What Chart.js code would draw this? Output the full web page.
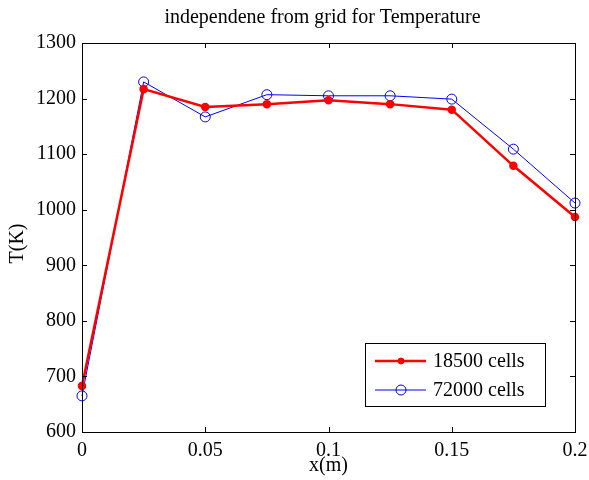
<!DOCTYPE html>
<html>
<head>
<meta charset="utf-8">
<script src="https://cdn.jsdelivr.net/npm/chart.js@4.4.1/dist/chart.umd.min.js"></script>
<style>
  html, body { margin: 0; padding: 0; background: #fff; }
  #wrap { width: 589px; height: 480px; }
</style>
</head>
<body>
<div id="wrap"><canvas id="tempChart" width="589" height="480"></canvas></div>
<script>
// grid independence data, temperature along x
const xPositions = [0, 0.025, 0.05, 0.075, 0.1, 0.125, 0.15, 0.175, 0.2];
const coarseTemps = [683, 1217, 1185, 1190, 1197, 1190, 1180, 1079, 987];
const fineTemps = [665, 1230, 1167, 1207, 1205, 1205, 1199, 1109, 1012];
const xTicks = [0, 0.05, 0.1, 0.15, 0.2];
const yTicks = [600, 700, 800, 900, 1000, 1100, 1200, 1300];
const chartTitle = 'independene from grid for Temperature';
const yLabel = 'T(K)';

const serif = "'Liberation Serif', 'Times New Roman', serif";
const fontSize = 20;

function toPoints(ys) {
    return xPositions.map((x, i) => ({ x: x, y: ys[i] }));
}

// box around the axes with inward ticks on all four sides, plus title and y label
const axesBox = {
    id: 'axesBox',
    afterDraw(chart) {
        const { ctx, chartArea: a, scales } = chart;
        const len = 5;
        ctx.save();
        ctx.strokeStyle = '#000';
        ctx.lineWidth = 1;
        ctx.strokeRect(a.left + 0.5, a.top + 0.5, a.right - a.left, a.bottom - a.top);
        ctx.beginPath();
        xTicks.forEach(v => {
            const px = Math.round(scales.x.getPixelForValue(v)) + 0.5;
            ctx.moveTo(px, a.bottom); ctx.lineTo(px, a.bottom - len);
            ctx.moveTo(px, a.top); ctx.lineTo(px, a.top + len);
        });
        yTicks.forEach(v => {
            const py = Math.round(scales.y.getPixelForValue(v)) + 0.5;
            ctx.moveTo(a.left, py); ctx.lineTo(a.left + len, py);
            ctx.moveTo(a.right, py); ctx.lineTo(a.right - len, py);
        });
        ctx.stroke();

        ctx.fillStyle = '#000';
        ctx.font = fontSize + 'px ' + serif;
        ctx.textAlign = 'center';
        ctx.textBaseline = 'middle';
        ctx.fillText(chartTitle, (a.left + a.right) / 2 - 6, 18);

        ctx.translate(18, (a.top + a.bottom) / 2 + 6);
        ctx.rotate(-Math.PI / 2);
        ctx.fillText(yLabel, 0, 0);
        ctx.restore();
    }
};

// legend drawn inside the plot, lower right
const boxLegend = {
    id: 'boxLegend',
    afterDraw(chart) {
        const { ctx } = chart;
        const x0 = 365, y0 = 343, w = 180, h = 63;
        ctx.save();
        ctx.fillStyle = '#fff';
        ctx.fillRect(x0, y0, w, h);
        ctx.strokeStyle = '#000';
        ctx.lineWidth = 1;
        ctx.strokeRect(x0 + 0.5, y0 + 0.5, w, h);
        chart.data.datasets.forEach((ds, i) => {
            const y = y0 + 18 + i * 29;
            ctx.strokeStyle = ds.borderColor;
            ctx.lineWidth = ds.borderWidth;
            ctx.beginPath();
            ctx.moveTo(375, y); ctx.lineTo(426, y);
            ctx.stroke();
            ctx.beginPath();
            ctx.arc(401, y, ds.pointRadius, 0, Math.PI * 2);
            if (ds.pointBackgroundColor !== 'transparent') {
                ctx.fillStyle = ds.pointBackgroundColor;
                ctx.fill();
            }
            ctx.lineWidth = 1;
            ctx.stroke();
            ctx.fillStyle = '#000';
            ctx.font = fontSize + 'px ' + serif;
            ctx.textBaseline = 'middle';
            ctx.textAlign = 'left';
            ctx.fillText(ds.label, 433, y + 1);
        });
        ctx.restore();
    }
};

new Chart(document.getElementById('tempChart'), {
    type: 'line',
    data: {
        datasets: [{
            label: '18500 cells',
            data: toPoints(coarseTemps),
            borderColor: '#ff0000',
            borderWidth: 2.5,
            pointStyle: 'circle',
            pointRadius: 3,
            pointBackgroundColor: '#ff0000',
            pointBorderColor: '#ff0000',
            tension: 0
        }, {
            label: '72000 cells',
            data: toPoints(fineTemps),
            borderColor: '#0000ff',
            borderWidth: 1,
            pointStyle: 'circle',
            pointRadius: 5,
            pointBackgroundColor: 'transparent',
            pointBorderColor: '#0000ff',
            pointBorderWidth: 1,
            tension: 0
        }]
    },
    options: {
        responsive: false,
        animation: false,
        clip: false,
        layout: { padding: { left: 0, right: 14, top: 43, bottom: 0 } },
        plugins: {
            legend: { display: false },
            tooltip: { enabled: false },
            title: { display: false }
        },
        scales: {
            x: {
                type: 'linear',
                min: 0,
                max: 0.2,
                afterBuildTicks: s => { s.ticks = xTicks.map(v => ({ value: v })); },
                afterFit: s => { s.height = 48; s.paddingLeft = 0; s.paddingRight = 0; },
                grid: { display: false, drawTicks: false },
                border: { display: false },
                ticks: {
                    color: '#000',
                    padding: 7,
                    font: { family: serif, size: fontSize },
                    callback: v => String(v)
                },
                title: {
                    display: true,
                    text: 'x(m)',
                    color: '#000',
                    font: { family: serif, size: fontSize },
                    padding: { top: 0, bottom: 2 }
                }
            },
            y: {
                min: 600,
                max: 1300,
                afterBuildTicks: s => { s.ticks = yTicks.map(v => ({ value: v })); },
                afterFit: s => { s.width = 82; s.paddingTop = 0; s.paddingBottom = 0; },
                grid: { display: false, drawTicks: false },
                border: { display: false },
                ticks: {
                    color: '#000',
                    padding: 6,
                    font: { family: serif, size: fontSize },
                    callback: v => String(v)
                },
                title: { display: false }
            }
        }
    },
    plugins: [axesBox, boxLegend]
});
</script>
</body>
</html>
